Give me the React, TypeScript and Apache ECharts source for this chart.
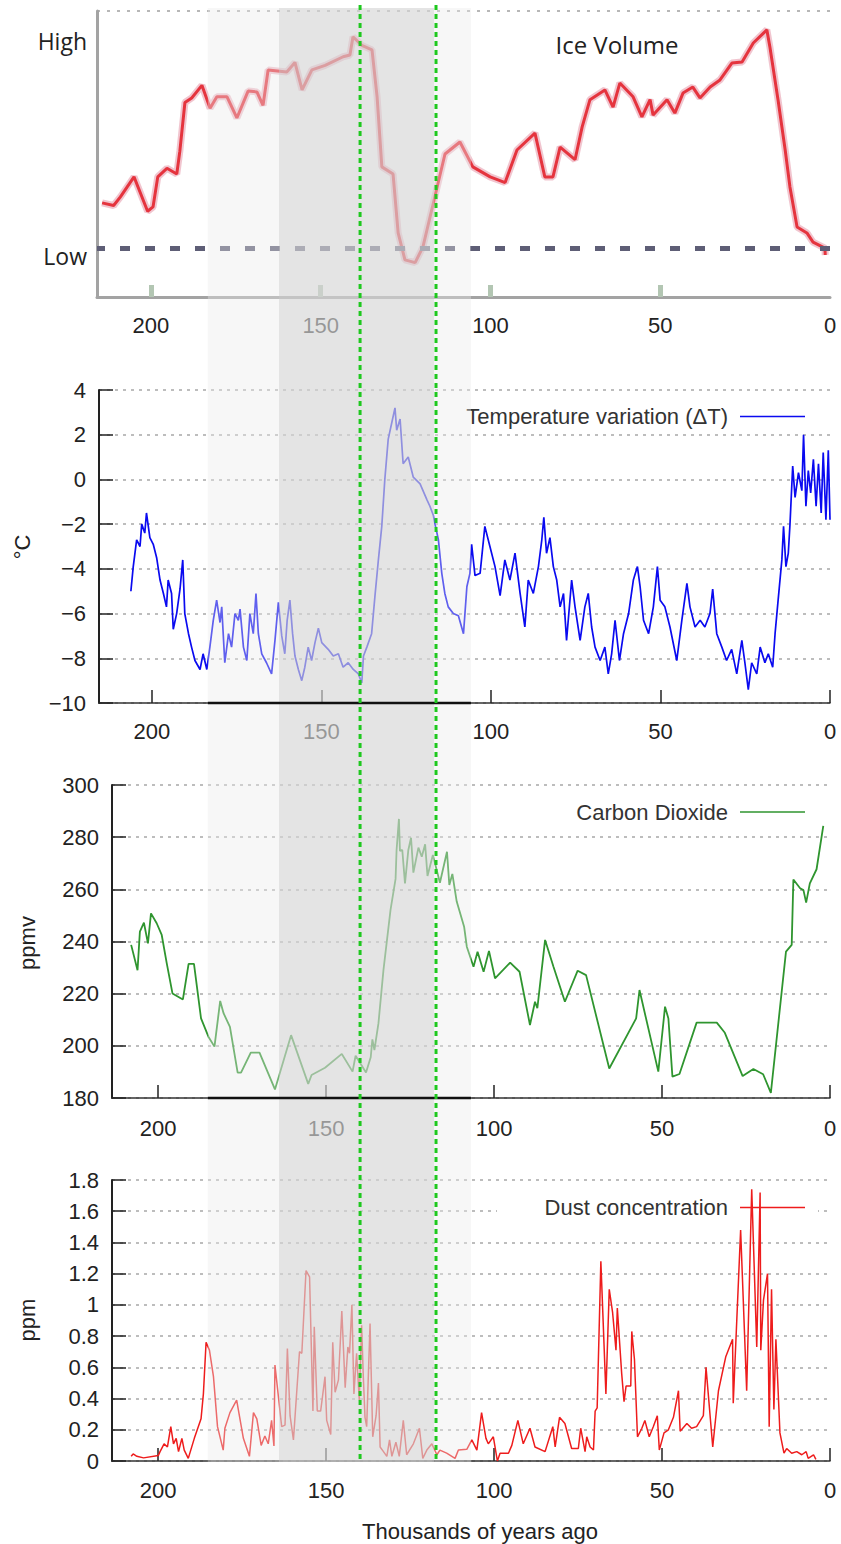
import React, { useEffect, useRef } from 'react';
import * as echarts from 'echarts';

// ---------- data ----------
const X_TICKS = [0, 50, 100, 150, 200];
const ICE_X_TICKS = [50, 100, 150, 200];
const X_MAX = [215.9, 215.6, 213.7, 213.7];

const ICE_KYR = [214.4, 211, 209, 205, 203, 201, 199.4, 198, 195.3, 192.4, 191.5, 190, 188, 185, 182.6, 180.6, 177.6, 174.7, 171.4, 168.8, 167, 165.5, 160, 157.6, 155.5, 152.6, 148.7, 143.4, 141.4, 140.5, 137.9, 134.9, 133.4, 132, 128.7, 127.2, 125.2, 122.2, 119.9, 117, 113.4, 109, 105.2, 100.1, 95.7, 92.2, 86.9, 84, 81.6, 79.5, 75.1, 73, 70.7, 66.3, 63.9, 61.9, 58, 55.4, 53, 52.1, 48, 45.7, 43.3, 40.4, 38.3, 35.3, 32.4, 28.9, 25.9, 22.6, 18.6, 17.7, 15.3, 13.2, 11.8, 9.7, 6.8, 5, 1.5, 1.4];
const ICE_LEVEL = [32.9, 32, 35, 42, 36, 30, 31.5, 42, 45, 43, 51, 68, 69.6, 74, 66, 70, 70, 62.6, 72, 71.7, 67, 79.4, 78.7, 82, 72.4, 79.4, 81, 84, 84.6, 91, 88, 86.4, 70, 45.5, 43, 22.4, 13, 12, 17.5, 32, 50, 54.2, 45.5, 42, 40, 51.4, 57.3, 42, 42, 52.4, 48, 59.5, 69, 72.4, 66.4, 74.8, 70, 63, 69, 63.6, 69, 64.3, 71.3, 73.4, 69.6, 73.4, 75.9, 81.8, 82.2, 88.8, 93.4, 87.4, 68.9, 51.4, 38.5, 24.5, 22.4, 19.2, 17.1, 14.7];
const ICE_LOW = 17.1;
const ICE_LEVEL_LABELS = ['High', 'Low'];
const ICE_LABEL_LEVELS = [89.5, 14.3];

const TEMP_KYR = [206.2, 205.5, 204.5, 203.5, 203.0, 202.1, 201.6, 200.6, 199.6, 198.6, 197.6, 196.6, 195.7, 195.2, 194.2, 193.7, 192.7, 191.7, 190.9, 190.3, 189.2, 188.3, 187.3, 185.8, 184.9, 183.8, 182.9, 181.9, 180.9, 179.9, 179.4, 178.5, 177.4, 176.5, 175.5, 174.5, 174.0, 173.0, 172.0, 171.1, 170.1, 169.3, 168.6, 167.6, 166.2, 164.7, 163.7, 162.7, 161.7, 160.8, 160.1, 159.3, 158.5, 157.8, 156.8, 155.8, 154.9, 153.9, 152.9, 151.9, 150.9, 149.9, 148.0, 146.5, 145.0, 143.6, 142.1, 140.6, 139.1, 138.1, 137.6, 136.6, 135.2, 134.2, 133.2, 132.2, 131.3, 130.3, 129.3, 128.3, 127.8, 126.8, 125.9, 124.4, 122.9, 120.9, 118.9, 118.0, 117.0, 116.5, 115.5, 114.5, 113.6, 112.6, 111.1, 109.6, 108.1, 107.1, 106.2, 105.7, 104.7, 103.2, 101.8, 100.3, 98.8, 97.3, 95.9, 94.4, 92.9, 91.4, 90.0, 89.0, 87.5, 86.0, 85.0, 84.4, 83.6, 82.6, 81.6, 80.6, 79.6, 78.6, 77.7, 76.2, 75.2, 73.7, 72.3, 71.3, 70.3, 69.3, 67.8, 66.4, 65.4, 64.4, 63.4, 62.1, 60.9, 59.4, 58.0, 56.8, 56.0, 55.0, 53.5, 52.1, 50.9, 50.1, 48.7, 47.2, 45.2, 43.7, 42.2, 41.3, 39.8, 38.3, 36.9, 35.4, 34.6, 33.4, 31.9, 30.5, 29.0, 27.5, 26.0, 25.1, 24.1, 23.1, 21.6, 20.6, 19.2, 18.2, 16.9, 16.2, 15.3, 14.2, 13.7, 13.0, 12.3, 11.8, 11.0, 10.3, 9.3, 8.3, 7.8, 7.1, 6.4, 5.7, 4.9, 4.1, 3.4, 2.6, 2.0, 1.2, 0.5, 0.0];
const TEMP_C = [-5.0, -3.9, -2.7, -3.0, -2.0, -2.4, -1.5, -2.6, -2.9, -3.5, -4.5, -5.1, -5.7, -4.5, -5.1, -6.7, -6.0, -4.9, -3.6, -6.0, -6.9, -7.5, -8.1, -8.5, -7.8, -8.5, -7.5, -6.3, -5.4, -6.4, -5.7, -8.2, -6.9, -7.5, -6.0, -6.3, -5.8, -7.5, -8.1, -6.0, -6.9, -5.1, -6.9, -7.8, -8.2, -8.7, -7.2, -5.5, -7.0, -7.8, -6.3, -5.4, -6.9, -7.9, -8.5, -9.0, -8.4, -7.5, -8.1, -7.3, -6.65, -7.3, -7.6, -7.9, -7.8, -8.4, -8.2, -8.5, -8.7, -9.1, -7.9, -7.5, -6.9, -5.2, -3.6, -2.1, 0.0, 1.8, 2.5, 3.2, 2.2, 2.7, 0.7, 1.0, 0.1, -0.2, -0.9, -1.2, -1.6, -2.0, -2.7, -4.2, -5.1, -5.7, -6.0, -6.1, -6.9, -4.8, -4.2, -2.9, -4.3, -4.2, -2.1, -3.0, -3.9, -5.2, -3.6, -4.5, -3.3, -5.1, -6.6, -4.5, -5.1, -3.9, -2.7, -1.7, -3.3, -2.6, -3.9, -4.5, -5.7, -5.1, -7.2, -4.5, -5.7, -7.2, -5.7, -5.1, -6.6, -7.5, -8.1, -7.5, -8.7, -7.8, -6.3, -8.1, -6.9, -6.0, -4.5, -3.9, -4.8, -6.3, -6.9, -5.7, -3.9, -5.4, -5.7, -6.6, -8.1, -6.3, -4.65, -5.7, -6.6, -6.3, -6.6, -6.0, -4.9, -6.9, -7.5, -8.1, -7.6, -8.7, -7.2, -8.2, -9.4, -8.2, -8.7, -7.5, -8.2, -7.8, -8.4, -6.9, -5.4, -3.6, -2.1, -3.9, -3.3, -2.0, 0.6, -0.8, 0.3, -0.5, 2.0, -1.2, 0.4, -0.6, 0.9, -1.2, 0.7, -1.5, 1.2, -1.8, 1.3, -1.8];

const CO2_KYR = [208.0, 206.1, 205.4, 204.2, 203.0, 202.1, 200.4, 198.9, 197.4, 195.7, 192.6, 190.9, 189.3, 187.2, 185.0, 183.2, 181.5, 180.5, 178.6, 176.3, 175.3, 172.4, 169.8, 165.2, 160.4, 155.3, 154.3, 150.3, 145.3, 142.1, 141.2, 138.1, 136.7, 136.2, 135.6, 134.4, 132.9, 130.8, 129.3, 129.0, 128.3, 128.0, 127.3, 126.5, 125.5, 124.7, 124.0, 122.5, 121.5, 120.5, 119.8, 118.2, 116.1, 114.0, 113.3, 112.4, 111.1, 108.9, 108.1, 106.1, 104.9, 103.1, 101.5, 99.7, 95.2, 92.4, 89.3, 87.8, 87.1, 84.8, 82.3, 78.9, 75.1, 72.6, 65.7, 57.7, 56.7, 51.1, 49.1, 48.1, 46.9, 44.8, 39.7, 33.7, 31.3, 26.0, 22.8, 19.9, 17.6, 13.1, 11.4, 10.9, 8.9, 7.9, 7.1, 6.0, 4.0, 2.0];
const CO2_PPMV = [238.7, 229, 243.8, 247.2, 239.3, 250.8, 247, 242.5, 231.6, 220.1, 217.8, 231.4, 231.4, 210.5, 203.5, 199.7, 217.2, 212.5, 207.3, 189.7, 189.7, 197.4, 197.4, 183.3, 204.1, 185.4, 188.8, 191.6, 196.9, 190.1, 196.2, 189.8, 195.6, 202.5, 198.4, 208.6, 229.1, 252.1, 264, 275.1, 287, 274.7, 275.1, 262.3, 275.1, 279.8, 266.4, 276, 272.5, 277.3, 265.1, 273.2, 262.5, 274.4, 261.7, 265.9, 255.3, 245.7, 238, 230.3, 236.1, 228.4, 236.4, 225.9, 231.9, 228.4, 208, 216.9, 214.4, 240.6, 230.3, 216.9, 228.8, 227.1, 191.3, 210.5, 221.4, 190.1, 215, 210.5, 188.2, 189.2, 208.9, 208.9, 205, 188.4, 191.1, 189.1, 182, 236.1, 238.7, 263.8, 260.4, 259.7, 254.9, 262.3, 267.7, 284.3];

const DUST_KYR = [208.0, 207.4, 206.3, 204.3, 199.9, 199.4, 198.2, 197.2, 196.2, 195.4, 194.6, 193.9, 192.9, 192.2, 191.0, 189.2, 187.2, 186.5, 185.7, 184.7, 183.5, 182.3, 180.6, 180.1, 178.6, 176.6, 174.6, 172.8, 171.6, 170.6, 169.3, 168.2, 167.2, 166.2, 165.5, 165.2, 163.2, 162.2, 161.5, 160.7, 159.7, 157.9, 157.2, 155.95, 154.9, 153.9, 153.5, 152.6, 151.6, 150.3, 149.8, 148.6, 148.0, 147.3, 146.3, 145.3, 144.3, 143.5, 143.0, 142.3, 141.7, 140.9, 140.1, 139.4, 138.9, 138.4, 137.9, 136.9, 136.1, 135.1, 134.4, 133.9, 132.9, 131.9, 131.1, 130.4, 129.2, 128.2, 127.0, 126.0, 124.0, 122.2, 121.2, 120.0, 118.5, 117.0, 116.1, 114.1, 111.6, 110.6, 108.1, 106.6, 105.1, 103.7, 102.4, 101.7, 100.2, 99.0, 98.2, 95.7, 94.7, 92.9, 91.3, 89.3, 87.8, 84.8, 82.5, 81.8, 80.5, 78.9, 76.9, 74.9, 74.2, 72.9, 72.4, 71.4, 70.4, 69.9, 69.3, 68.2, 66.7, 65.7, 64.7, 63.7, 63.3, 62.0, 61.3, 60.7, 59.3, 59.0, 58.2, 57.3, 56.0, 55.1, 53.8, 52.6, 51.4, 50.8, 49.4, 48.1, 46.6, 45.1, 44.6, 42.6, 41.2, 39.7, 37.7, 36.9, 34.9, 33.2, 31.0, 29.0, 28.8, 26.6, 24.8, 23.3, 21.8, 20.8, 20.6, 19.8, 18.6, 18.1, 17.4, 16.7, 16.1, 14.9, 13.7, 12.9, 11.4, 9.9, 8.4, 7.1, 6.5, 4.9, 4.2];
const DUST_PPM = [0.03, 0.045, 0.03, 0.02, 0.035, 0.06, 0.11, 0.09, 0.22, 0.11, 0.145, 0.06, 0.145, 0.07, 0.017, 0.145, 0.27, 0.43, 0.76, 0.71, 0.54, 0.22, 0.07, 0.21, 0.31, 0.39, 0.145, 0.03, 0.31, 0.27, 0.1, 0.16, 0.11, 0.26, 0.096, 0.615, 0.22, 0.23, 0.72, 0.29, 0.135, 0.70, 0.69, 1.22, 1.18, 0.32, 0.86, 0.32, 0.32, 0.54, 0.26, 0.17, 0.76, 0.44, 0.52, 0.96, 0.47, 0.73, 0.69, 1.0, 0.43, 0.69, 0.39, 0.87, 0.54, 0.28, 0.22, 0.88, 0.155, 0.29, 0.5, 0.09, 0.06, 0.03, 0.135, 0.03, 0.12, 0.03, 0.26, 0.04, 0.11, 0.21, 0.017, 0.07, 0.11, 0.04, 0.07, 0.05, 0.017, 0.07, 0.075, 0.135, 0.07, 0.31, 0.145, 0.11, 0.155, 0.0, 0.05, 0.05, 0.1, 0.26, 0.11, 0.21, 0.09, 0.06, 0.22, 0.09, 0.28, 0.24, 0.08, 0.08, 0.21, 0.06, 0.155, 0.09, 0.07, 0.32, 0.34, 1.28, 0.43, 1.1, 0.95, 0.71, 0.98, 0.56, 0.38, 0.48, 0.48, 0.83, 0.65, 0.155, 0.21, 0.26, 0.155, 0.22, 0.29, 0.07, 0.18, 0.2, 0.28, 0.45, 0.19, 0.24, 0.21, 0.22, 0.29, 0.6, 0.09, 0.45, 0.67, 0.78, 0.37, 1.48, 0.45, 1.74, 0.73, 1.72, 0.71, 1.03, 1.2, 0.22, 1.1, 0.33, 0.78, 0.18, 0.05, 0.08, 0.05, 0.06, 0.04, 0.06, 0.017, 0.04, 0.01];

const LIGHT_BAND = [183.5, 105.9];
const DARK_BAND = [162.5, 116.8];
const TERMINATIONS = [138.6, 116.2];

const LEGEND_TEXTS = ['Temperature variation (\u0394T)', 'Carbon Dioxide', 'Dust concentration'];
const LEGEND_COLORS = ['#0a0af0', '#2f952f', '#ee1c1c'];
const Y_NAMES = ['\u00b0C', 'ppmv', 'ppm'];
const X_NAME = 'Thousands of years ago';
const ICE_TITLE = 'Ice Volume';

// ---------- layout / styles ----------
const FONT = '"Liberation Sans", Arial, sans-serif';
const CAL = '"Open Sans", "Liberation Sans", sans-serif';
const GRIDS = [
  { left: 97, top: 11, width: 733, height: 286 },
  { left: 99, top: 390, width: 731, height: 313 },
  { left: 112, top: 785, width: 718, height: 313 },
  { left: 112, top: 1180, width: 718, height: 281 },
];
const LABEL_MARGINS = [17, 17, 19, 18];

function pairs(xs: number[], ys: number[]) {
  return xs.map((x, i) => [x, ys[i]]);
}

function buildOption() {
  const xAxis = GRIDS.map((_, i) => ({
    type: 'value',
    gridIndex: i,
    inverse: true,
    min: 0,
    max: X_MAX[i],
    axisLine: {
      show: true,
      onZero: false,
      lineStyle: i === 0 ? { color: '#a3a3a3', width: 3 } : { color: '#333', width: 1.5 },
    },
    axisTick: {
      show: true,
      inside: true,
      length: i === 0 ? 12 : 13,
      customValues: i === 0 ? ICE_X_TICKS : X_TICKS,
      lineStyle: i === 0 ? { color: '#b3c6b3', width: 5 } : { color: '#222', width: 1.5 },
    },
    axisLabel: {
      show: true,
      customValues: X_TICKS,
      margin: LABEL_MARGINS[i],
      fontSize: 22,
      color: '#222',
      fontFamily: FONT,
      formatter: (v: number) => (X_TICKS.indexOf(Math.round(v)) >= 0 && Math.abs(v - Math.round(v)) < 1e-6 ? String(Math.round(v)) : ''),
    },
    splitLine: { show: false },
  }));

  const gridLine = { show: true, lineStyle: { color: '#a8a8a8', width: 1.5, type: [3, 5] } };
  const yCommon = (i: number) => ({
    type: 'value',
    gridIndex: i,
    axisLine: { show: true, onZero: false, lineStyle: { color: '#222', width: 2 } },
    axisTick: { show: true, inside: true, length: 14, lineStyle: { color: '#222', width: 1.5 } },
    axisLabel: { show: true, margin: 13, fontSize: 22, color: '#222', fontFamily: FONT },
    splitLine: gridLine,
  });

  const yAxis = [
    {
      type: 'value',
      gridIndex: 0,
      min: 0,
      max: 100,
      interval: 100,
      axisLine: { show: true, onZero: false, lineStyle: { color: '#a3a3a3', width: 3 } },
      axisTick: { show: false },
      axisLabel: { show: false },
      splitLine: { show: true, lineStyle: { color: '#a0a0a0', width: 1.5, type: [3, 7] } },
    },
    {
      ...yCommon(1),
      min: -10,
      max: 4,
      interval: 2,
      axisLabel: {
        show: true, margin: 13, fontSize: 22, color: '#222', fontFamily: FONT,
        formatter: (v: number) => String(v).replace('-', '\u2212'),
      },
    },
    { ...yCommon(2), min: 180, max: 300, interval: 20 },
    { ...yCommon(3), min: 0, max: 1.8, interval: 0.2 },
  ];

  const iceData = pairs(ICE_KYR, ICE_LEVEL);

  return {
    animation: false,
    backgroundColor: '#ffffff',
    textStyle: { fontFamily: FONT },
    grid: GRIDS.map((g) => ({ ...g, containLabel: false })),
    xAxis,
    yAxis,
    series: [
      {
        type: 'line', xAxisIndex: 0, yAxisIndex: 0, data: iceData, showSymbol: false, silent: true,
        lineStyle: { color: 'rgba(228,140,160,0.5)', width: 7 }, z: 2,
        markLine: {
          silent: true, symbol: 'none', label: { show: false },
          lineStyle: { color: '#5e5e76', width: 5, type: [10, 15] },
          data: [{ yAxis: ICE_LOW }],
        },
      },
      {
        type: 'line', xAxisIndex: 0, yAxisIndex: 0, data: iceData, showSymbol: false, silent: true,
        lineStyle: { color: '#e5343e', width: 3 }, z: 3,
      },
      {
        type: 'line', xAxisIndex: 1, yAxisIndex: 1, data: pairs(TEMP_KYR, TEMP_C), showSymbol: false, silent: true,
        lineStyle: { color: LEGEND_COLORS[0], width: 1.7 }, z: 3,
      },
      {
        type: 'line', xAxisIndex: 2, yAxisIndex: 2, data: pairs(CO2_KYR, CO2_PPMV), showSymbol: false, silent: true,
        lineStyle: { color: LEGEND_COLORS[1], width: 1.8 }, z: 3,
      },
      {
        type: 'line', xAxisIndex: 3, yAxisIndex: 3, data: pairs(DUST_KYR, DUST_PPM), showSymbol: false, silent: true,
        lineStyle: { color: LEGEND_COLORS[2], width: 1.5 }, z: 3,
      },
    ],
  };
}

function txt(x: number, y: number, text: string, font: string, align: string, extra: any = {}) {
  return {
    type: 'text', x, y, z: 10, silent: true, ...extra,
    style: { text, font, fill: '#222', textAlign: align, align, textVerticalAlign: 'middle', verticalAlign: 'middle' },
  };
}

function buildGraphics(chart: any) {
  const p = (gi: number, x: number, y: number) => chart.convertToPixel({ gridIndex: gi }, [x, y]) as number[];
  const els: any[] = [];

  // Ice panel texts
  ICE_LEVEL_LABELS.forEach((t, i) => {
    const y = p(0, 0, ICE_LABEL_LEVELS[i])[1];
    els.push(txt(87, y, t, `23px ${CAL}`, 'right'));
  });
  els.push(txt(617, 44, ICE_TITLE, `24px ${CAL}`, 'center'));

  // y axis names
  const yNamePos = [[22, 547], [27, 943], [27, 1320]];
  Y_NAMES.forEach((t, i) => {
    els.push(txt(yNamePos[i][0], yNamePos[i][1], t, `22px ${FONT}`, 'center', { rotation: Math.PI / 2 }));
  });
  els.push(txt(480, 1531, X_NAME, `22px ${FONT}`, 'center'));

  // legends
  const legY = [416.5, 812, 1207.5];
  els.push({ type: 'rect', z: 1, silent: true, shape: { x: 497, y: 1195, width: 321, height: 26 }, style: { fill: '#ffffff' } });
  LEGEND_TEXTS.forEach((t, i) => {
    const e = txt(728, legY[i], t, `22px ${FONT}`, 'right');
    e.style.fill = '#333';
    els.push(e);
    els.push({
      type: 'line', z: 10, silent: true,
      shape: { x1: 740, y1: legY[i], x2: 805, y2: legY[i] },
      style: { stroke: LEGEND_COLORS[i], lineWidth: 1.6 },
    });
  });

  // interglacial bands (overlay)
  const top = p(0, 0, 100)[1] - 3;
  const bottom = p(3, 0, 0)[1] + 1;
  const lbL = p(1, LIGHT_BAND[0], 0)[0];
  const lbR = p(1, LIGHT_BAND[1], 0)[0];
  const dbL = p(1, DARK_BAND[0], 0)[0];
  const dbR = p(1, DARK_BAND[1], 0)[0];
  els.push({ type: 'rect', z: 50, silent: true, shape: { x: lbL, y: top, width: lbR - lbL, height: bottom - top }, style: { fill: 'rgba(234,234,234,0.38)' } });
  els.push({ type: 'rect', z: 51, silent: true, shape: { x: dbL, y: top, width: dbR - dbL, height: bottom - top }, style: { fill: 'rgba(205,205,205,0.44)' } });

  // dark axis segments under the band
  const tY = p(1, 0, -10)[1];
  const cY = p(2, 0, 180)[1];
  [tY, cY].forEach((yy) => {
    els.push({ type: 'line', z: 55, silent: true, shape: { x1: lbL, y1: yy, x2: lbR, y2: yy }, style: { stroke: '#111', lineWidth: 2.5 } });
  });

  // termination lines
  TERMINATIONS.forEach((t) => {
    const x = p(1, t, 0)[0];
    els.push({
      type: 'line', z: 60, silent: true,
      shape: { x1: x, y1: 5, x2: x, y2: bottom },
      style: { stroke: '#1ec81e', lineWidth: 3, lineDash: [5, 4] },
    });
  });

  return els;
}

export default function App() {
  const ref = useRef<HTMLDivElement>(null);
  useEffect(() => {
    const el = ref.current;
    if (!el) return;
    const chart = echarts.init(el, null, { renderer: 'svg' });
    chart.setOption(buildOption() as any);
    chart.setOption({ graphic: { elements: buildGraphics(chart) } } as any);
    return () => chart.dispose();
  }, []);
  return (
    <div
      ref={ref}
      style={{ position: 'absolute', left: 0, top: 0, width: 841, height: 1544, background: '#fff' }}
    />
  );
}
